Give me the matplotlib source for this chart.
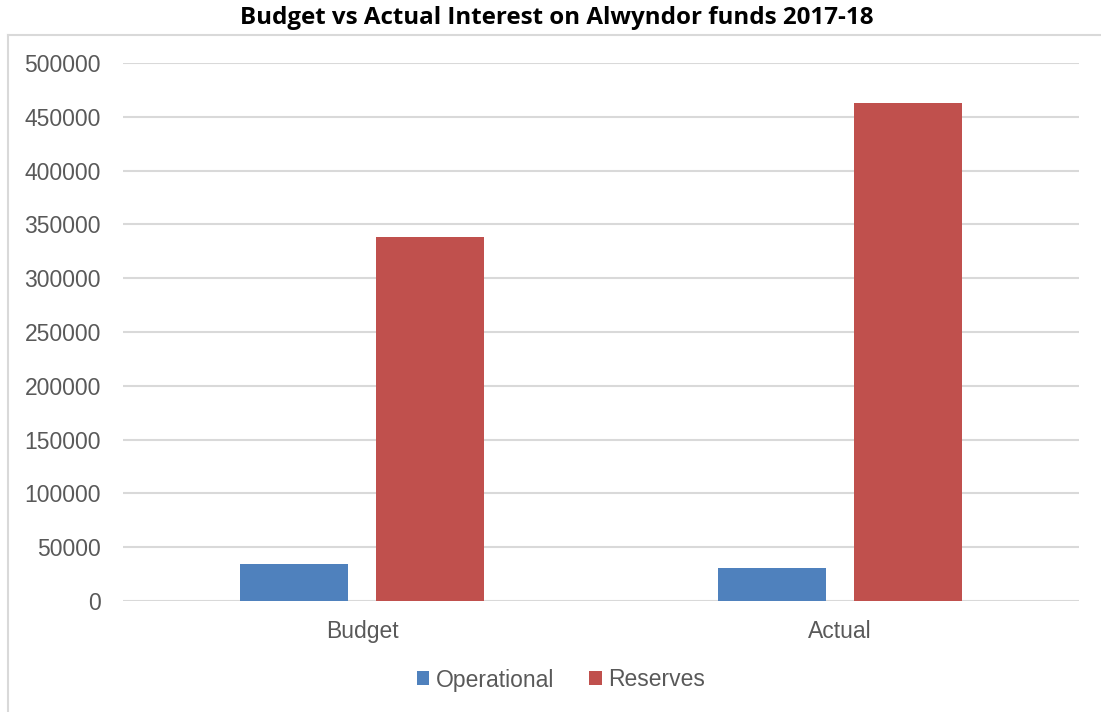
import matplotlib.pyplot as plt
import numpy as np
from matplotlib.lines import Line2D

categories = ['Budget', 'Actual']
operational = [34500, 31000]
reserves = [338500, 463000]
series_names = ['Operational', 'Reserves']
yticks = np.arange(0, 500001, 50000)

blue = '#4f81bd'
red = '#c0504d'
grid = '#d9d9d9'
text_gray = '#595959'

fig = plt.figure(figsize=(11.01, 7.12), dpi=100)
ax = fig.add_axes([123 / 1101, 1 - 601 / 712, 956 / 1101, 538 / 712])

# outer chart frame: only the left and top edges show in the picture
fx = 8 / 1101
fy = 1 - 35 / 712
fig.lines.append(Line2D([fx, fx], [0, fy], transform=fig.transFigure,
                        color=grid, linewidth=1.5))
fig.lines.append(Line2D([fx, 1], [fy, fy], transform=fig.transFigure,
                        color=grid, linewidth=1.5))

index = np.arange(len(categories))
bar_width = 0.226
offset = 0.143

ax.bar(index - offset, operational, bar_width, color=blue, label=series_names[0], zorder=3)
ax.bar(index + offset, reserves, bar_width, color=red, label=series_names[1], zorder=3)

ax.set_xlim(-0.5, 1.5)
ax.set_ylim(0, 500000)
ax.set_yticks(yticks)
ax.set_yticklabels([str(v) for v in yticks])
ax.set_xticks(index)
ax.set_xticklabels(categories)
ax.yaxis.grid(True, color=grid, linewidth=1.5, zorder=0)
ax.set_axisbelow(True)
for s in ax.spines.values():
    s.set_visible(False)
ax.tick_params(axis='both', length=0, labelsize=16.5, labelcolor=text_gray,
               labelfontfamily='Liberation Sans')
ax.tick_params(axis='y', pad=16)
ax.tick_params(axis='x', pad=14)

fig.text(557 / 1101, 1 - 18 / 712, 'Budget vs Actual Interest on Alwyndor funds 2017-18',
         ha='center', va='center', fontsize=17.4, fontweight='bold',
         family='Open Sans', color='black')

fig.legend(loc='center', bbox_to_anchor=(561 / 1101, 1 - 680 / 712), ncol=2,
           frameon=False, prop={'family': 'Liberation Sans', 'size': 16.5},
           labelcolor=text_gray, handlelength=0.55, handleheight=0.55,
           handletextpad=0.3, columnspacing=1.5)

fig.savefig('out.png', dpi=100)
